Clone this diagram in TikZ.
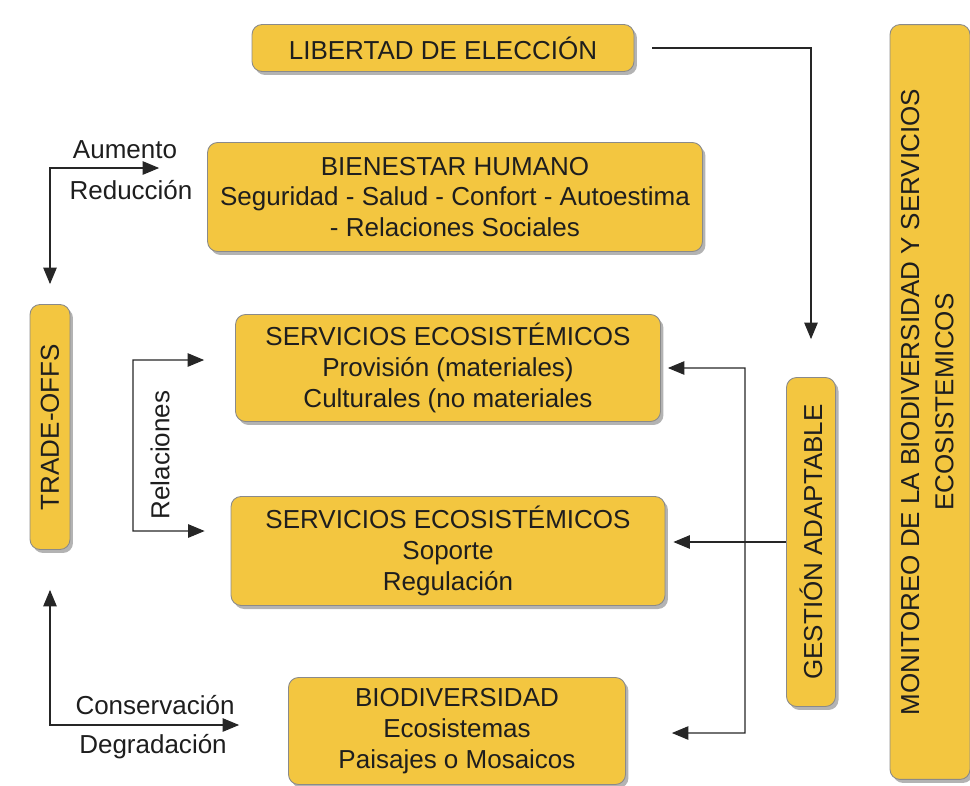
\documentclass[tikz,border=0pt]{standalone}
\usepackage{fontspec}
\setmainfont{Liberation Sans}
\usepackage{graphicx}
\usetikzlibrary{positioning}
\usetikzlibrary{arrows.meta}
\usetikzlibrary{shadows}
\definecolor{amarillo}{HTML}{F3C640}
\definecolor{borde}{HTML}{8A8A8A}
\definecolor{texto}{HTML}{1E1E1E}

\begin{document}
\begin{tikzpicture}[x=0.02cm,y=-0.02cm,
		caja/.style={fill=amarillo,draw=borde,line width=0.5pt,rectangle,rounded corners=2mm,align=center,inner sep=0pt,
			drop shadow={shadow xshift=0.6mm,shadow yshift=-0.7mm,opacity=0.6}},
		flecha/.style={-{Triangle[length=3.3mm,width=2.7mm]},line width=0.6pt,black!85},
		flechas/.style={{Triangle[length=3.3mm,width=2.7mm]}-{Triangle[length=3.3mm,width=2.7mm]},line width=0.6pt,black!85},
		font=\fontsize{14.8}{17.5}\selectfont,text=texto]
		\useasboundingbox (0,0) rectangle (970,785);
		\node[caja,minimum width=76.4mm,minimum height=9.4mm] at (443,48) (lib) {LIBERTAD DE ELECCIÓN};
		\node[caja,minimum width=99mm,minimum height=21.8mm] at (455,197) (bien)
		{BIENESTAR HUMANO\\Seguridad - Salud - Confort - Autoestima\\- Relaciones Sociales};
		\node[caja,minimum width=85mm,minimum height=21.4mm] at (448,368) (se1)
		{SERVICIOS ECOSISTÉMICOS\\Provisión (materiales)\\Culturales (no materiales};
		\node[caja,minimum width=86.8mm,minimum height=21.8mm] at (448,551) (se2)
		{SERVICIOS ECOSISTÉMICOS\\Soporte\\Regulación};
		\node[caja,minimum width=67.4mm,minimum height=21.4mm] at (457,731) (bio)
		{BIODIVERSIDAD\\Ecosistemas\\Paisajes o Mosaicos};
		\node[caja,minimum width=8mm,minimum height=49mm] at (50,427) (trade) {\rotatebox{90}{TRADE-OFFS}};
		\node[caja,minimum width=9.8mm,minimum height=65.8mm] at (811,542) (gest) {\rotatebox{90}{GESTIÓN ADAPTABLE}};
		\node[caja,minimum width=16mm,minimum height=151mm] at (930,402) (mon)
		{\rotatebox{90}{\begin{tabular}{@{}c@{}}MONITOREO DE LA BIODIVERSIDAD Y SERVICIOS\\[2pt]ECOSISTEMICOS\end{tabular}}};
		\node at (125,150) (aum) {Aumento};
		\node at (131,190) (red) {Reducción};
		\node at (155,705) (cons) {Conservación};
		\node at (153,747) (deg) {Degradación};
		\node[rotate=90] at (160,455) (rel) {Relaciones};
		\coordinate (r1) at (133,360);
		\coordinate (r2) at (133,531);
		\coordinate (g1) at (745,368);
		\coordinate (g2) at (745,733);
		\coordinate (s2) at ([xshift=1.6mm]se2.east);
		\draw[flechas] ([yshift=4mm]trade.north) |- ([xshift=-9.6mm,yshift=5.8mm]bien.west);
		\draw[flechas] ([xshift=-6.2mm,yshift=1.6mm]se1.west) -- (r1) -- (r2) -- ([xshift=-5.2mm,yshift=4mm]se2.west);
		\draw[flechas] ([yshift=-8mm]trade.south) |- ([xshift=-9.8mm,yshift=1.2mm]bio.west);
		\draw[flecha] ([xshift=3.6mm]lib.east) -| ([yshift=7.6mm]gest.north);
		\draw[flechas] ([xshift=1.4mm]se1.east) -- (g1) -- (g2) -- ([xshift=9.2mm,yshift=-0.4mm]bio.east);
		\draw[flecha] (gest.west) -- (gest.west -| s2);
	\end{tikzpicture}
\end{document}
